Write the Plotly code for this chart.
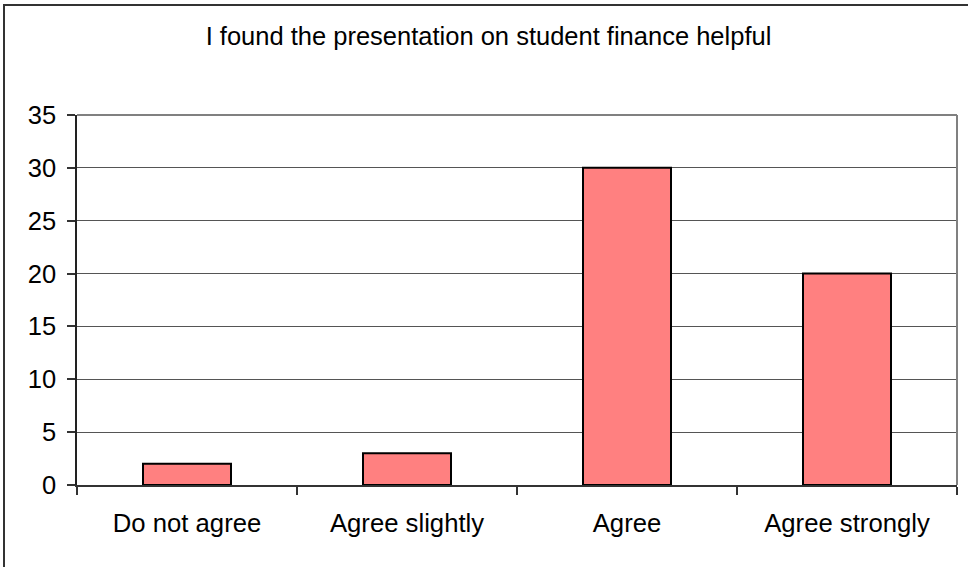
import plotly.graph_objects as go

categories = ["Do not agree", "Agree slightly", "Agree", "Agree strongly"]
values = [2, 3, 30, 20]
y_ticks = [0, 5, 10, 15, 20, 25, 30, 35]
title_text = "I found the presentation on student finance helpful"

W, H = 968, 567
L, R, T, B = 77, 11, 115, 82
pw = W - L - R
ph = H - T - B

FONT = "Liberation Sans, Arial, sans-serif"

fig = go.Figure()
fig.add_trace(go.Bar(
    x=categories, y=values, width=0.4,
    marker=dict(color="#FF8080", line=dict(color="#000000", width=2)),
    hoverinfo="x+y",
))

def px_x(x):
    return (x - L) / pw

def px_y(y):
    return (H - B - y) / ph

shapes = [
    # outer chart border (left and top visible, right/bottom cropped)
    dict(type="rect", xref="paper", yref="paper",
         x0=px_x(4), x1=px_x(975), y0=px_y(575), y1=px_y(5),
         line=dict(color="#333333", width=2), fillcolor="rgba(0,0,0,0)", layer="above"),
    # plot area border top/right in grey
    dict(type="line", xref="paper", yref="paper", x0=0, x1=1, y0=1, y1=1,
         line=dict(color="#808080", width=2), layer="above"),
    dict(type="line", xref="paper", yref="paper", x0=1, x1=1, y0=0, y1=1,
         line=dict(color="#808080", width=2), layer="above"),
]

fig.update_layout(
    width=W, height=H,
    margin=dict(l=L, r=R, t=T, b=B, pad=0),
    paper_bgcolor="white", plot_bgcolor="white",
    showlegend=False,
    font=dict(family=FONT, size=25.5, color="#000000"),
    title=dict(text=title_text, x=488.5 / W, xanchor="center", xref="container",
               y=1 - 36 / H, yanchor="middle", yref="container",
               font=dict(family=FONT, size=25.5, color="#000000")),
    xaxis=dict(
        type="category", showgrid=False, showline=True, linecolor="#333333", linewidth=1.5,
        ticks="outside", ticklen=8, tickcolor="#333333", tickwidth=1.5,
        tickson="boundaries", tickfont=dict(family=FONT, size=25.7, color="#000000"),
        ticklabelstandoff=14, fixedrange=True,
    ),
    yaxis=dict(
        range=[0, 35], tickvals=y_ticks, ticktext=[str(v) for v in y_ticks],
        showgrid=True, gridcolor="#555555", gridwidth=1,
        showline=True, linecolor="#222222", linewidth=1.5,
        ticks="outside", ticklen=8, tickcolor="#333333", tickwidth=1.5,
        tickfont=dict(family=FONT, size=25.5, color="#000000"),
        ticklabelstandoff=6, zeroline=False, fixedrange=True,
    ),
    shapes=shapes,
    bargap=0.6,
)

fig.write_html(
    "out.html",
    config={"displayModeBar": False},
    post_script="document.body.style.margin='0';document.body.style.overflow='hidden';",
)
